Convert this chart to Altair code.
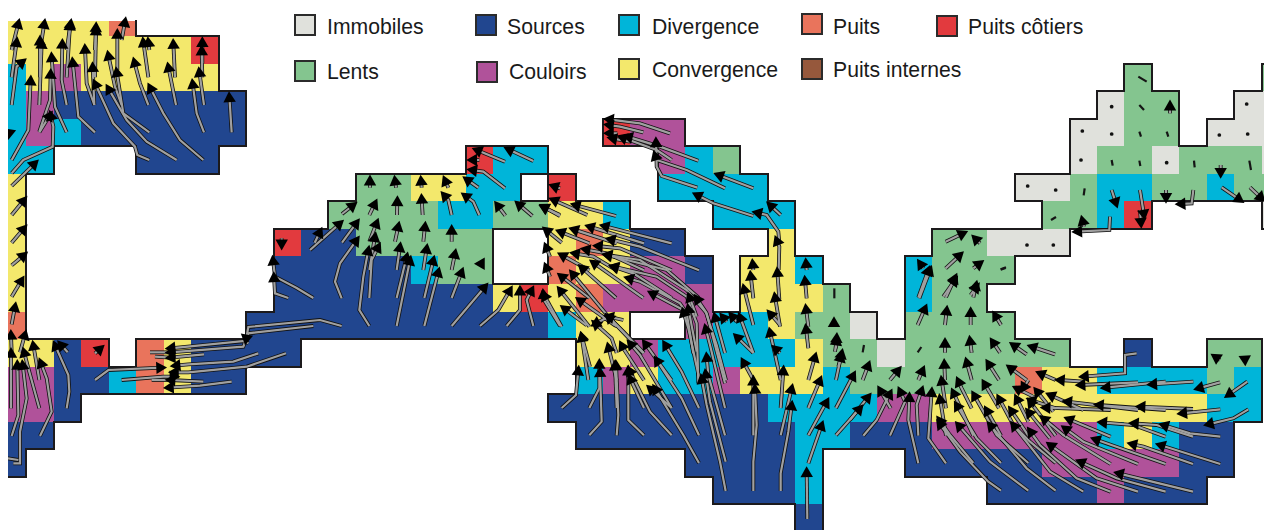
import math
import altair as alt
import pandas as pd

# ---- map grid (column runs per row: first column, last column, class) ----
GRID_X0, GRID_DX = 26.5, 27.45
GRID_Y0, GRID_DY = 36.0, 27.55
TOP_EDGE = 21.0

rows = {
    -1: [(-1, 2, "Y"), (3, 3, "P")],
    0: [(-1, 5, "Y"), (6, 6, "R")],
    1: [(-1, -1, "D"), (0, 0, "Y"), (1, 1, "C"), (2, 6, "Y"), (40, 40, "L"), (45, 45, "L")],
    2: [(-1, -1, "D"), (0, 0, "C"), (1, 7, "S"), (39, 39, "I"), (40, 41, "L"), (44, 45, "I")],
    3: [(-1, -1, "D"), (0, 0, "C"), (1, 1, "D"), (2, 7, "S"), (21, 21, "R"), (22, 23, "C"), (38, 39, "I"), (40, 41, "L"), (43, 45, "I")],
    4: [(-1, 0, "D"), (4, 6, "S"), (16, 16, "R"), (17, 18, "D"), (23, 23, "C"), (24, 24, "D"), (25, 25, "L"), (38, 38, "I"), (39, 40, "L"), (41, 41, "I"), (42, 44, "L"), (45, 45, "I")],
    5: [(-1, -1, "Y"), (12, 13, "L"), (14, 15, "Y"), (16, 17, "D"), (19, 19, "R"), (23, 26, "D"), (36, 37, "I"), (38, 38, "L"), (39, 40, "D"), (41, 42, "L"), (43, 43, "D"), (44, 45, "L")],
    6: [(-1, -1, "Y"), (11, 14, "L"), (15, 16, "D"), (17, 18, "L"), (19, 20, "Y"), (21, 21, "D"), (25, 27, "D"), (37, 38, "L"), (39, 39, "D"), (40, 40, "R"), (45, 45, "I")],
    7: [(-1, -1, "Y"), (9, 9, "R"), (10, 11, "S"), (12, 16, "L"), (19, 19, "Y"), (20, 20, "P"), (21, 21, "Y"), (22, 23, "S"), (27, 27, "Y"), (33, 34, "L"), (35, 37, "I")],
    8: [(-1, -1, "Y"), (9, 13, "S"), (14, 14, "D"), (15, 16, "L"), (19, 19, "P"), (20, 21, "Y"), (22, 23, "C"), (24, 24, "S"), (26, 27, "Y"), (28, 28, "D"), (32, 32, "D"), (33, 35, "L")],
    9: [(-1, -1, "Y"), (9, 16, "S"), (17, 17, "Y"), (18, 18, "R"), (19, 19, "Y"), (20, 20, "P"), (21, 24, "C"), (26, 28, "Y"), (29, 29, "L"), (32, 32, "D"), (33, 34, "L")],
    10: [(-1, -1, "P"), (8, 18, "S"), (19, 19, "D"), (20, 21, "Y"), (24, 24, "C"), (25, 26, "D"), (27, 27, "Y"), (28, 29, "L"), (30, 30, "I"), (32, 35, "L")],
    11: [(-1, 0, "Y"), (1, 1, "S"), (2, 2, "R"), (4, 4, "P"), (5, 5, "Y"), (6, 9, "S"), (20, 21, "Y"), (22, 22, "C"), (23, 27, "D"), (28, 28, "Y"), (29, 30, "L"), (31, 31, "I"), (32, 37, "L"), (40, 40, "S"), (43, 44, "L")],
    12: [(-1, 0, "C"), (1, 2, "S"), (3, 3, "D"), (4, 4, "P"), (5, 5, "Y"), (6, 7, "S"), (20, 20, "D"), (21, 21, "C"), (22, 22, "Y"), (23, 24, "D"), (25, 25, "C"), (26, 28, "Y"), (29, 29, "D"), (30, 35, "L"), (36, 36, "P"), (37, 38, "Y"), (39, 42, "D"), (43, 43, "L"), (44, 44, "D")],
    13: [(-1, 0, "C"), (1, 1, "S"), (19, 26, "S"), (27, 30, "D"), (31, 32, "C"), (33, 42, "Y"), (43, 44, "D")],
    14: [(-1, 0, "S"), (20, 27, "S"), (28, 29, "D"), (30, 32, "S"), (33, 38, "C"), (39, 39, "D"), (40, 40, "Y"), (41, 41, "D"), (42, 43, "S")],
    15: [(-1, -1, "S"), (24, 27, "S"), (28, 28, "D"), (32, 36, "S"), (37, 41, "C"), (42, 43, "S")],
    16: [(25, 27, "S"), (28, 28, "D"), (35, 38, "S"), (39, 39, "C"), (40, 42, "S")],
    17: [(28, 28, "S")],
}

class_colors = {
    "I": "#e0e1dc", "L": "#84c58f", "S": "#21468f", "C": "#b0529a", "D": "#00b5d9",
    "Y": "#f3e86c", "P": "#e9745c", "R": "#e23a3e", "B": "#96583c",
}

# ---- legend ----
legend_names = ["Immobiles", "Sources", "Divergence", "Puits", "Puits côtiers",
                "Lents", "Couloirs", "Convergence", "Puits internes"]
legend_keys = ["I", "S", "D", "P", "R", "L", "C", "Y", "B"]
legend_x0 = [295, 476, 619, 802, 937, 295, 477, 619, 802]
legend_y0 = [15, 15, 15, 14, 16, 61, 62, 59, 59]
legend_tx = [327, 507, 652, 833, 968, 327, 509, 652, 833]
legend_ty = [28, 28, 28, 28, 28, 73, 73, 71, 71]

# ---- trajectories in thirds of a pixel, per map sector ----
origin_nw, origin_sw, origin_c, origin_m, origin_s, origin_e, origin_ne = (
    (0, 0), (0, 265), (320, 100), (540, 100), (540, 265), (850, 265), (880, 50))

tracks_nw = [
    [(695, 397), (688, 290)], [(612, 397), (590, 340), (578, 250)], [(612, 315), (598, 215)],
    [(607, 232), (605, 150)], [(607, 190), (607, 125)], [(528, 315), (505, 200)], [(525, 232), (520, 130)],
    [(445, 315), (420, 250), (403, 185)], [(445, 232), (430, 125)], [(448, 150), (445, 125)],
    [(610, 480), (540, 420), (490, 340), (450, 262)], [(530, 480), (440, 425), (380, 360), (325, 265)],
    [(448, 480), (412, 465), (405, 440), (340, 370), (285, 250)], [(448, 397), (370, 340), (350, 215)],
    [(365, 315), (345, 260), (325, 165)], [(285, 397), (235, 350), (218, 185)],
    [(283, 315), (260, 250), (255, 145)], [(283, 315), (278, 200)], [(200, 397), (165, 320), (155, 170)],
    [(200, 315), (185, 240), (187, 130)], [(200, 232), (210, 75)], [(285, 232), (288, 90)],
    [(352, 210), (352, 100)], [(118, 397), (150, 345)], [(35, 480), (85, 390), (92, 240)],
    [(118, 395), (150, 300), (152, 220)], [(118, 315), (125, 130)], [(120, 232), (120, 120)],
    [(35, 315), (50, 200), (68, 185)], [(35, 232), (50, 125)], [(35, 150), (55, 70)], [(120, 150), (133, 70)],
    [(200, 150), (212, 70)], [(285, 150), (288, 80)], [(365, 120), (375, 65)],
    [(35, 558), (105, 490)], [(35, 520), (70, 480), (158, 440), (160, 380), (152, 345)],
    [(35, 645), (72, 600)], [(35, 728), (72, 685)], [(35, 796), (72, 765)], [(30, 400), (24, 395)],
    [(845, 715), (845, 735)],
]

tracks_sw = [
    [(35, 95), (65, 45)], [(35, 178), (45, 125)], [(35, 262), (33, 208)], [(60, 262), (75, 208)],
    [(33, 430), (33, 262)], [(118, 430), (85, 310), (72, 260)], [(200, 430), (208, 380), (205, 330), (165, 240)],
    [(203, 262), (182, 238)], [(35, 513), (55, 450), (52, 298)], [(120, 513), (155, 440), (140, 340), (122, 292)],
    [(40, 595), (60, 595), (60, 500), (80, 400), (68, 298)], [(118, 345), (100, 240)],
    [(285, 265), (302, 250)],
    [(745, 235), (735, 228), (510, 250)], [(940, 183), (745, 205), (730, 245), (510, 262)],
    [(775, 265), (700, 290), (565, 298), (525, 302)], [(858, 265), (740, 305), (565, 322), (520, 322)],
    [(695, 350), (600, 362), (505, 368)], [(610, 350), (510, 345)], [(612, 268), (510, 278)],
    [(365, 345), (490, 335), (525, 335)], [(285, 345), (325, 315), (485, 308)],
]
stubs_sw = [[(510, 345), (455, 345)], [(510, 278), (465, 275)], [(510, 262), (450, 262)], [(22, 580), (55, 585)]]

tracks_c = [
    [(150, 263), (150, 240)], [(228, 263), (225, 240)], [(305, 263), (303, 240)], [(385, 263), (375, 240)], [(475, 263), (440, 238)],
    [(555, 185), (470, 150)], [(640, 183), (565, 148)], [(555, 265), (490, 215), (455, 210)], [(478, 180), (455, 180)],
    [(66, 342), (100, 315)], [(148, 345), (165, 310)], [(231, 345), (232, 302)], [(308, 345), (305, 295)],
    [(395, 345), (385, 300), (372, 285)], [(478, 345), (460, 305), (435, 287)], [(556, 347), (532, 315)],
    [(637, 348), (595, 312)], [(720, 348), (670, 320)],
    [(-30, 450), (60, 370)], [(66, 428), (110, 368)], [(148, 425), (170, 368)], [(225, 425), (235, 378)], [(310, 425), (315, 378)], [(395, 425), (395, 388)],
    [(65, 595), (45, 545), (60, 490), (110, 420)], [(148, 510), (165, 410)], [(230, 510), (240, 440)], [(310, 510), (320, 445)],
    [(395, 510), (405, 460)], [(488, 491), (478, 491)], [(148, 594), (155, 480), (175, 440)], [(230, 594), (260, 470)],
    [(313, 594), (340, 480)], [(395, 594), (425, 515)], [(395, 678), (495, 560)], [(313, 678), (355, 515)], [(230, 678), (270, 480)],
    [(148, 678), (118, 630), (130, 530), (145, 450)], [(480, 678), (535, 630), (570, 570)], [(560, 678), (600, 630), (600, 570)],
    [(640, 678), (620, 600), (635, 570)], [(720, 678), (672, 600), (670, 580)],
    [(65, 678), (0, 660), (-215, 681), (-222, 720)],
    [(-20, 594), (-70, 564), (-135, 530), (-141, 480)], [(-95, 594), (-135, 580), (-138, 530)],
    [(-16, 428), (0, 395)],
]
tracks_m = [
    [(390, 100), (300, 70), (205, 58)], [(310, 97), (240, 80), (205, 75)], [(232, 100), (205, 100)],
    [(475, 182), (360, 140), (270, 112), (262, 110)], [(395, 180), (350, 150), (245, 112)], [(270, 125), (215, 115)],
    [(555, 265), (440, 210), (350, 180), (345, 165)], [(472, 263), (365, 228), (350, 200), (348, 125)],
    [(640, 265), (535, 225)], [(640, 348), (520, 310), (470, 285)], [(722, 345), (690, 315)],
    [(718, 428), (715, 395), (680, 345), (650, 338)],
    [(718, 598), (712, 515)], [(720, 680), (705, 590)], [(716, 510), (718, 440), (710, 420)],
    [(640, 675), (612, 565)], [(640, 595), (632, 525)], [(640, 510), (638, 490)],
    [(800, 510), (798, 488)], [(800, 595), (795, 540)], [(805, 680), (798, 625)], [(805, 745), (798, 685)],
    [(888, 745), (890, 712)], [(895, 800), (903, 770)], [(882, 680), (882, 665)],
    [(60, 265), (40, 258)], [(142, 345), (40, 300)], [(228, 348), (105, 315)], [(60, 345), (10, 322)],
    [(395, 430), (192, 378)], [(312, 430), (148, 380)], [(230, 430), (100, 388)], [(148, 430), (60, 395)], [(65, 428), (18, 390)],
    [(477, 511), (300, 440), (210, 418)], [(395, 511), (240, 445), (172, 438)], [(312, 511), (200, 460), (135, 448)],
    [(230, 511), (160, 470), (103, 460)], [(148, 511), (65, 465)], [(30, 470), (18, 440)], [(30, 530), (18, 500)],
    [(310, 594), (160, 488)], [(228, 594), (125, 503)], [(395, 594), (280, 520), (220, 500)], [(477, 594), (380, 510), (200, 465)],
    [(430, 630), (335, 580)], [(148, 594), (63, 528)], [(230, 680), (97, 520)], [(65, 680), (12, 585)], [(148, 680), (60, 570)],
    [(460, 760), (440, 640), (420, 610), (300, 545), (265, 535)], [(475, 850), (470, 670), (440, 590), (350, 530), (220, 500)],
    [(555, 850), (500, 640), (440, 570), (300, 480), (200, 465)], [(470, 650), (448, 590)],
    [(250, 660), (205, 650)], [(310, 760), (205, 650), (165, 672)], [(150, 800), (125, 708)],
]
tracks_s = [
    [(140, 181), (72, 130)], [(225, 181), (118, 105)], [(312, 264), (250, 200), (205, 155)], [(230, 264), (215, 220), (165, 175)],
    [(145, 345), (125, 215)], [(230, 346), (205, 245)], [(312, 346), (250, 250), (245, 240)], [(395, 429), (300, 270), (270, 235)],
    [(395, 346), (315, 235)], [(477, 429), (425, 320), (375, 238)], [(477, 511), (425, 400), (350, 285)],
    [(395, 511), (330, 440), (268, 315)], [(477, 594), (430, 510), (345, 370)],
    [(148, 511), (185, 470), (180, 320)], [(230, 511), (235, 450), (228, 298)], [(312, 511), (265, 465), (265, 315)],
    [(65, 429), (108, 390), (115, 315)], [(148, 429), (178, 370), (178, 295)], [(230, 429), (225, 300)], [(312, 429), (270, 340)],
    [(395, 429), (330, 370)],
    [(557, 678), (540, 590), (500, 420), (485, 340)], [(557, 590), (510, 410), (497, 325)], [(555, 511), (505, 330), (500, 275)],
    [(555, 429), (510, 240), (497, 190)], [(558, 346), (530, 240), (497, 140), (470, 100)], [(480, 350), (445, 190), (430, 140)],
    [(470, 260), (445, 130)],
    [(640, 678), (640, 590), (650, 480), (645, 370)], [(640, 511), (640, 400), (640, 345)], [(640, 345), (610, 290)], [(640, 264), (590, 215)],
    [(555, 264), (525, 155)], [(640, 264), (600, 155)], [(590, 170), (575, 152)], [(560, 170), (548, 155)],
    [(722, 678), (722, 625), (745, 500), (755, 420)], [(722, 511), (755, 370)], [(722, 429), (730, 315)],
    [(722, 345), (690, 200)], [(720, 264), (705, 250)], [(720, 180), (690, 145)],
    [(802, 762), (800, 620)], [(805, 595), (845, 480)], [(805, 511), (860, 410)], [(805, 429), (840, 345)], [(805, 345), (825, 275)],
    [(888, 511), (960, 430)], [(888, 429), (940, 330)], [(888, 345), (905, 265)], [(885, 260), (890, 225)],
]
tracks_e = [
    [(205, 97), (235, 15)], [(288, 97), (315, 38)], [(370, 97), (378, 60)],
    [(203, 180), (225, 130)], [(285, 180), (290, 135)], [(362, 180), (362, 140)], [(453, 180), (435, 150)],
    [(285, 263), (285, 232)], [(365, 263), (360, 225)], [(450, 263), (428, 230)], [(530, 268), (490, 240)], [(615, 268), (545, 245)],
    [(38, 345), (55, 300)], [(120, 345), (145, 315)], [(205, 345), (218, 315)], [(285, 345), (283, 295)], [(365, 345), (350, 290)],
    [(447, 345), (415, 295)], [(530, 345), (480, 308)], [(1110, 352), (1045, 370)], [(1192, 350), (1135, 390)],
    [(1110, 285), (1095, 275)], [(1190, 285), (1180, 280)],
    [(40, 512), (80, 465), (120, 385)], [(120, 512), (165, 410), (150, 378)], [(205, 512), (200, 420), (215, 375)],
    [(205, 595), (175, 465), (178, 395)], [(288, 595), (235, 520), (245, 380)], [(288, 430), (275, 345)],
    [(365, 430), (335, 370), (325, 348)], [(447, 430), (403, 355)], [(0, 465), (55, 395)], [(122, 430), (90, 375)],
    [(288, 512), (270, 400)], [(370, 512), (310, 382)], [(453, 512), (410, 435)], [(535, 512), (483, 435)], [(617, 512), (540, 410)],
    [(370, 594), (300, 510), (268, 465)], [(453, 594), (380, 520), (320, 420)], [(535, 594), (440, 510), (372, 390)],
    [(617, 594), (540, 530), (490, 480), (447, 400)],
    [(453, 677), (415, 650), (330, 560), (268, 475)], [(535, 677), (420, 590), (325, 480)], [(617, 677), (530, 610), (420, 480)],
    [(700, 680), (600, 620), (490, 480)], [(782, 680), (680, 640), (570, 540), (540, 498)], [(864, 680), (740, 640), (600, 540)],
    [(947, 680), (800, 640), (690, 590)], [(1029, 680), (805, 625)], [(1111, 597), (930, 540)], [(1029, 597), (880, 545), (845, 537)],
    [(947, 597), (735, 523)], [(864, 597), (700, 530), (645, 490)], [(782, 597), (640, 510), (580, 460)],
    [(1111, 515), (1020, 505), (940, 480)], [(1029, 515), (920, 480), (850, 475)], [(947, 515), (850, 480), (755, 472)],
    [(782, 515), (655, 462)], [(1195, 433), (1150, 460), (1075, 478)], [(1111, 433), (995, 445)], [(1029, 432), (870, 425)],
    [(947, 435), (745, 420)], [(864, 435), (650, 410)], [(782, 435), (585, 428)], [(700, 435), (600, 390)], [(617, 430), (542, 405)],
    [(1030, 350), (905, 358)], [(947, 350), (765, 368)], [(864, 352), (690, 360)], [(860, 265), (825, 270), (825, 325), (700, 335)],
    [(700, 350), (628, 345)], [(617, 345), (570, 325)], [(535, 345), (520, 370)], [(560, 400), (500, 370)], [(610, 440), (560, 378)],
    [(535, 470), (500, 400)], [(600, 520), (535, 440)],
]
tracks_ne = [
    [(870, 190), (870, 165)], [(1022, 345), (1022, 370)], [(695, 420), (708, 460)], [(780, 420), (792, 495)], [(780, 480), (783, 520)],
    [(858, 420), (858, 445)], [(940, 420), (935, 460), (900, 462)], [(1025, 412), (1080, 450)], [(1110, 412), (1145, 445)],
    [(690, 500), (688, 540), (590, 545)], [(612, 530), (607, 510)], [(197, 575), (250, 550)], [(300, 580), (285, 565)],
    [(197, 655), (240, 615)], [(280, 655), (300, 640)], [(118, 745), (150, 660)], [(130, 655), (120, 640)],
    [(190, 740), (225, 690)], [(272, 735), (290, 710)],
]
# very slow drift: no arrow head, only a short dash or a dot
dashes_ne = [
    [(775, 80), (800, 95)], [(778, 165), (792, 180)], [(778, 245), (783, 260)], [(860, 245), (865, 260)], [(695, 330), (698, 347)],
    [(778, 332), (781, 348)], [(942, 332), (944, 352)], [(1108, 332), (1113, 360)], [(614, 415), (611, 436)], [(513, 510), (528, 501)],
    [(362, 658), (378, 652)],
]
dashes_e = [[(38, 262), (42, 240)], [(203, 262), (214, 246)], [(452, 14), (467, 9)]]
dashes_s = [[(883, 70), (883, 100)]]
dots_ne = [(695, 170), (607, 243), (695, 252), (603, 330), (443, 408), (527, 420), (441, 585), (520, 585), (860, 338), (1018, 255), (1103, 252), (1100, 162)]


# ---- tables ----
def cx(c):
    return round(GRID_X0 + GRID_DX * c)


def cy(j):
    return round(GRID_Y0 + GRID_DY * j)


occupied = {}
for j, runs in rows.items():
    for first, last, key in runs:
        for c in range(first, last + 1):
            occupied[(c, j)] = key

cell_rows, h_edges, v_edges = [], [], []
for (c, j), key in occupied.items():
    top = TOP_EDGE if j == -1 else cy(j)
    cell_rows.append(dict(x=cx(c), x2=cx(c + 1), y=top, y2=cy(j + 1), key=key))
    if (c, j - 1) not in occupied and j > -1:
        h_edges.append(dict(x=cx(c), x2=cx(c + 1), y=cy(j)))
    if (c, j + 1) not in occupied:
        h_edges.append(dict(x=cx(c), x2=cx(c + 1), y=cy(j + 1)))
    if (c - 1, j) not in occupied and c > -1:
        v_edges.append(dict(x=cx(c), y=top, y2=cy(j + 1)))
    if (c + 1, j) not in occupied and c < 45:
        v_edges.append(dict(x=cx(c + 1), y=top, y2=cy(j + 1)))

color_scale = alt.Scale(domain=list(class_colors), range=list(class_colors.values()))

line_rows, head_rows, dash_rows = [], [], []
tid = 0
for origin, tracks, with_head in [
    (origin_nw, tracks_nw, True), (origin_sw, tracks_sw, True), (origin_sw, stubs_sw, False), (origin_c, tracks_c, True),
    (origin_m, tracks_m, True), (origin_s, tracks_s, True), (origin_e, tracks_e, True),
    (origin_ne, tracks_ne, True),
]:
    for tr in tracks:
        pts = [(origin[0] + a / 3, origin[1] + b / 3) for a, b in tr]
        for k, (x, y) in enumerate(pts):
            line_rows.append(dict(id=tid, k=k, x=x, y=y))
        if with_head:
            (x0, y0), (x1, y1) = pts[-2], pts[-1]
            head_rows.append(dict(x=x1, y=y1, angle=math.degrees(math.atan2(x1 - x0, y0 - y1)) % 360))
        tid += 1
for origin, tracks in [(origin_ne, dashes_ne), (origin_e, dashes_e), (origin_s, dashes_s)]:
    for tr in tracks:
        for k, (a, b) in enumerate(tr):
            dash_rows.append(dict(id=tid, k=k, x=origin[0] + a / 3, y=origin[1] + b / 3))
        tid += 1

dot_rows = [dict(x=origin_ne[0] + a / 3, y=origin_ne[1] + b / 3) for a, b in dots_ne]

legend_df = pd.DataFrame(dict(
    name=legend_names, key=legend_keys,
    x=legend_x0, x2=[v + 20 for v in legend_x0],
    y=legend_y0, y2=[v + 20 for v in legend_y0],
    tx=legend_tx, ty=legend_ty,
))

# ---- chart ----
W, H = 1256, 522
sx = alt.Scale(domain=[8, 8 + W], nice=False, zero=False)
sy = alt.Scale(domain=[8 + H, 8], nice=False, zero=False)
X = lambda f="x": alt.X(f"{f}:Q", scale=sx, axis=None)
Y = lambda f="y": alt.Y(f"{f}:Q", scale=sy, axis=None)
lines = alt.Data(values=line_rows)

cells = alt.Chart(alt.Data(values=cell_rows)).mark_rect(clip=True).encode(
    x=X(), x2="x2:Q", y=Y(), y2="y2:Q",
    color=alt.Color("key:N", scale=color_scale, legend=None),
)
h_border = alt.Chart(alt.Data(values=h_edges)).mark_rule(color="#1c1a1c", strokeWidth=2, strokeCap="square", clip=True).encode(
    x=X(), x2="x2:Q", y=Y())
v_border = alt.Chart(alt.Data(values=v_edges)).mark_rule(color="#1c1a1c", strokeWidth=2, strokeCap="square", clip=True).encode(
    x=X(), y=Y(), y2="y2:Q")
line_black = alt.Chart(lines).mark_line(color="#111111", strokeWidth=3.8, clip=True, interpolate="linear").encode(
    x=X(), y=Y(), detail="id:N", order="k:Q")
line_gray = alt.Chart(lines).mark_line(color="#a0a0a0", strokeWidth=2.2, clip=True, interpolate="linear").encode(
    x=X(), y=Y(), detail="id:N", order="k:Q")
dash_marks = alt.Chart(alt.Data(values=dash_rows)).mark_line(color="#151515", strokeWidth=2.2, clip=True).encode(
    x=X(), y=Y(), detail="id:N", order="k:Q")
heads = alt.Chart(alt.Data(values=head_rows)).mark_point(
    shape="triangle-up", filled=True, color="#000000", opacity=1, size=155, clip=True
).encode(x=X(), y=Y(), angle=alt.Angle("angle:Q", scale=None))
dots = alt.Chart(alt.Data(values=dot_rows)).mark_point(
    shape="circle", filled=True, color="#111111", opacity=1, size=14, clip=True
).encode(x=X(), y=Y())
leg_box = alt.Chart(legend_df).mark_rect(stroke="#2b2b2b", strokeWidth=2).encode(
    x=X(), x2="x2:Q", y=Y(), y2="y2:Q",
    color=alt.Color("key:N", scale=color_scale, legend=None))
leg_txt = alt.Chart(legend_df).mark_text(
    align="left", baseline="middle", font="Liberation Sans", fontSize=21.2, color="#1a1a1a"
).encode(x=X("tx"), y=Y("ty"), text="name:N")

chart = alt.layer(cells, h_border, v_border, line_black, line_gray, dash_marks, heads, dots, leg_box, leg_txt).properties(
    width=W, height=H, padding=0, autosize=alt.AutoSizeParams(type="none"),
    background="#ffffff",
).configure_view(stroke=None)

chart.save("out.html", embed_options={"renderer": "svg", "actions": False})
